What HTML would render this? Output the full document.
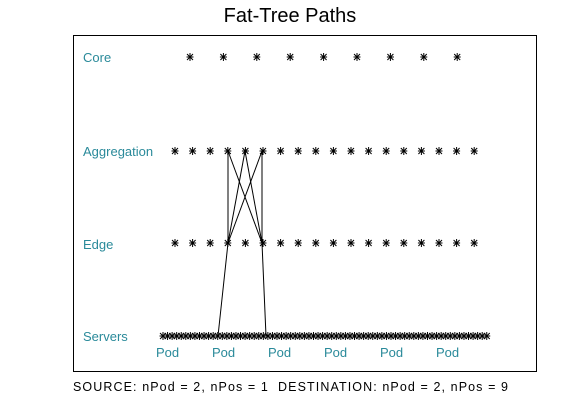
<!DOCTYPE html>
<html><head><meta charset="utf-8"><style>
html,body{margin:0;padding:0;background:#fff;width:561px;height:420px;overflow:hidden}
svg{display:block}
</style></head><body>
<svg id="s" width="561" height="420" xmlns="http://www.w3.org/2000/svg" font-family="Liberation Sans, Arial, sans-serif">
<defs>
<g id="st" stroke="#000" stroke-width="1"><line x1="-3.5" y1="0" x2="3.5" y2="0"/><line x1="0" y1="-4" x2="0" y2="4"/><line x1="-3" y1="-3" x2="3" y2="3"/><line x1="-3" y1="3" x2="3" y2="-3"/></g>
</defs>
<rect x="73.5" y="35.5" width="463" height="336" fill="none" stroke="#000"/>
<text x="290" y="22" font-size="20" text-anchor="middle">Fat-Tree Paths</text>
<text x="73" y="391" font-size="12.5" textLength="435" lengthAdjust="spacing" xml:space="preserve">SOURCE: nPod = 2, nPos = 1  DESTINATION: nPod = 2, nPos = 9</text>
<g fill="#2a8a9a" font-size="13">
<text x="83" y="62">Core</text>
<text x="83" y="156">Aggregation</text>
<text x="83" y="249">Edge</text>
<text x="83" y="341">Servers</text>
<text x="156" y="357">Pod</text><text x="212" y="357">Pod</text><text x="268" y="357">Pod</text>
<text x="324" y="357">Pod</text><text x="380" y="357">Pod</text><text x="436" y="357">Pod</text>
</g>
<g stroke="#000" stroke-width="1">
<line x1="228" y1="151" x2="228" y2="243"/><line x1="228" y1="151" x2="262" y2="243"/>
<line x1="245" y1="151" x2="228" y2="243"/><line x1="245" y1="151" x2="262" y2="243"/>
<line x1="262" y1="151" x2="228" y2="243"/><line x1="262" y1="151" x2="262" y2="243"/>
<line x1="228" y1="243" x2="218" y2="336"/><line x1="262" y1="243" x2="266" y2="336"/>
</g>
<g id="stars"></g>
</svg>
<script>
var g=document.getElementById('stars'),ns='http://www.w3.org/2000/svg';
function put(x,y){var u=document.createElementNS(ns,'use');u.setAttribute('href','#st');u.setAttribute('x',x);u.setAttribute('y',y);g.appendChild(u);}
for(var i=0;i<9;i++)put(190+i*33.4,57);
for(var i=0;i<18;i++){put(175+i*17.6,151);put(175+i*17.6,243);}
for(var i=0;i<72;i++)put(163+i*4.56,336);
</script>
</body></html>
